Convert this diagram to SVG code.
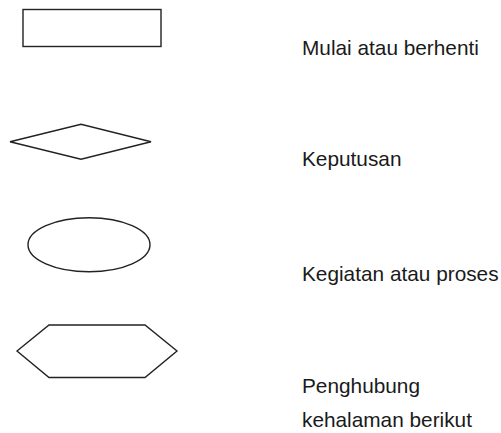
<svg xmlns="http://www.w3.org/2000/svg" width="501" height="433" viewBox="0 0 501 433">
<style>
.s{fill:#fff;stroke:#222;stroke-width:1.4}
.t{font-family:"Liberation Sans",Arial,sans-serif;font-size:20.8px;fill:#1a1a1a}
</style>
<rect width="501" height="433" fill="#fff"/>
<g id="terminator"><rect class="s" x="23" y="9.5" width="138" height="37"/></g>
<g id="decision"><polygon class="s" points="10,141.7 81,124.3 151,141.7 81,159.3"/></g>
<g id="process"><ellipse class="s" cx="89" cy="244.7" rx="61" ry="27"/></g>
<g id="connector"><polygon class="s" points="17,351 49,325 145,325 177,351 145,377.5 49,377.5"/></g>
<g id="connectors"></g>
<g id="labels">
<text class="t" x="302" y="55">Mulai atau berhenti</text>
<text class="t" x="302" y="165.5">Keputusan</text>
<text class="t" x="302" y="281">Kegiatan atau proses</text>
<text class="t" x="302" y="393">Penghubung</text>
<text class="t" x="302" y="427">kehalaman berikut</text>
</g>
</svg>
